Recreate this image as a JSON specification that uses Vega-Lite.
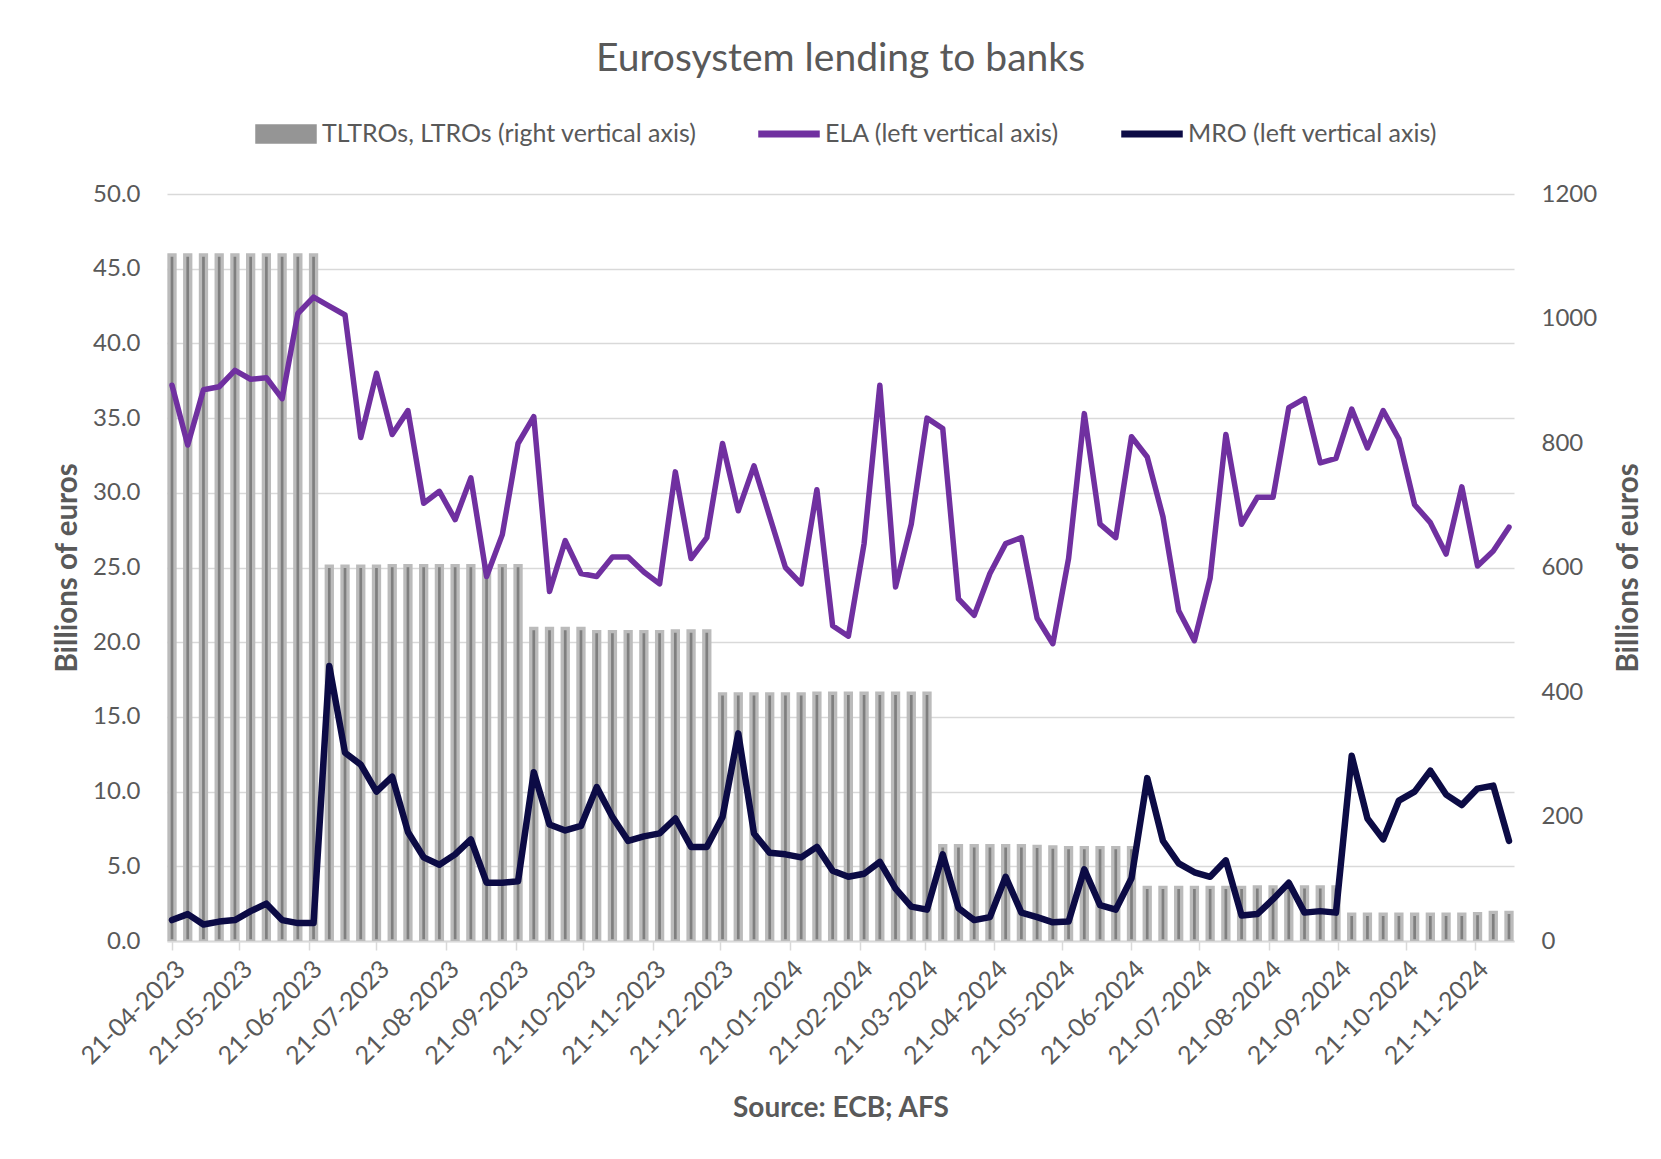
{
  "$schema": "https://vega.github.io/schema/vega-lite/v6.json",
  "autosize": {"type": "none"},
  "padding": {"left": 167, "top": 194, "right": 147, "bottom": 218},
  "width": 1347,
  "height": 747,
  "background": "white",
  "config": {
    "view": {"stroke": null},
    "font": "Lato",
    "axis": {"labelFont": "Lato", "titleFont": "Lato", "labelColor": "#595959", "titleColor": "#595959"},
    "legend": {"labelFont": "Lato"},
    "title": {"font": "Lato"}
  },
  "title": {"text": "Eurosystem lending to banks", "fontSize": 39, "fontWeight": "normal", "color": "#595959", "anchor": "middle", "offset": 24},
  "data": {"values": [
    {"date": "2023-04-21", "ela": 37.2, "mro": 1.4, "tltro": 1102},
    {"date": "2023-04-28", "ela": 33.2, "mro": 1.8, "tltro": 1102},
    {"date": "2023-05-05", "ela": 36.9, "mro": 1.1, "tltro": 1102},
    {"date": "2023-05-12", "ela": 37.1, "mro": 1.3, "tltro": 1102},
    {"date": "2023-05-19", "ela": 38.2, "mro": 1.4, "tltro": 1102},
    {"date": "2023-05-26", "ela": 37.6, "mro": 2.0, "tltro": 1102},
    {"date": "2023-06-02", "ela": 37.7, "mro": 2.5, "tltro": 1102},
    {"date": "2023-06-09", "ela": 36.3, "mro": 1.4, "tltro": 1102},
    {"date": "2023-06-16", "ela": 42.0, "mro": 1.2, "tltro": 1102},
    {"date": "2023-06-23", "ela": 43.1, "mro": 1.2, "tltro": 1102},
    {"date": "2023-06-30", "ela": 42.5, "mro": 18.4, "tltro": 602},
    {"date": "2023-07-07", "ela": 41.9, "mro": 12.6, "tltro": 602},
    {"date": "2023-07-14", "ela": 33.7, "mro": 11.8, "tltro": 602},
    {"date": "2023-07-21", "ela": 38.0, "mro": 10.0, "tltro": 602},
    {"date": "2023-07-28", "ela": 33.9, "mro": 11.0, "tltro": 603},
    {"date": "2023-08-04", "ela": 35.5, "mro": 7.3, "tltro": 603},
    {"date": "2023-08-11", "ela": 29.3, "mro": 5.6, "tltro": 603},
    {"date": "2023-08-18", "ela": 30.1, "mro": 5.1, "tltro": 603},
    {"date": "2023-08-25", "ela": 28.2, "mro": 5.8, "tltro": 603},
    {"date": "2023-09-01", "ela": 31.0, "mro": 6.8, "tltro": 603},
    {"date": "2023-09-08", "ela": 24.4, "mro": 3.9, "tltro": 603},
    {"date": "2023-09-15", "ela": 27.2, "mro": 3.9, "tltro": 603},
    {"date": "2023-09-22", "ela": 33.3, "mro": 4.0, "tltro": 603},
    {"date": "2023-09-29", "ela": 35.1, "mro": 11.3, "tltro": 502},
    {"date": "2023-10-06", "ela": 23.4, "mro": 7.8, "tltro": 502},
    {"date": "2023-10-13", "ela": 26.8, "mro": 7.4, "tltro": 502},
    {"date": "2023-10-20", "ela": 24.6, "mro": 7.7, "tltro": 502},
    {"date": "2023-10-27", "ela": 24.4, "mro": 10.3, "tltro": 497},
    {"date": "2023-11-03", "ela": 25.7, "mro": 8.3, "tltro": 497},
    {"date": "2023-11-10", "ela": 25.7, "mro": 6.7, "tltro": 497},
    {"date": "2023-11-17", "ela": 24.7, "mro": 7.0, "tltro": 497},
    {"date": "2023-11-24", "ela": 23.9, "mro": 7.2, "tltro": 497},
    {"date": "2023-12-01", "ela": 31.4, "mro": 8.2, "tltro": 498},
    {"date": "2023-12-08", "ela": 25.6, "mro": 6.3, "tltro": 498},
    {"date": "2023-12-15", "ela": 27.0, "mro": 6.3, "tltro": 498},
    {"date": "2023-12-22", "ela": 33.3, "mro": 8.3, "tltro": 397},
    {"date": "2023-12-29", "ela": 28.8, "mro": 13.9, "tltro": 397},
    {"date": "2024-01-05", "ela": 31.8, "mro": 7.2, "tltro": 397},
    {"date": "2024-01-12", "ela": 28.4, "mro": 5.9, "tltro": 397},
    {"date": "2024-01-19", "ela": 25.0, "mro": 5.8, "tltro": 397},
    {"date": "2024-01-26", "ela": 23.9, "mro": 5.6, "tltro": 397},
    {"date": "2024-02-02", "ela": 30.2, "mro": 6.3, "tltro": 398},
    {"date": "2024-02-09", "ela": 21.1, "mro": 4.7, "tltro": 398},
    {"date": "2024-02-16", "ela": 20.4, "mro": 4.3, "tltro": 398},
    {"date": "2024-02-23", "ela": 26.6, "mro": 4.5, "tltro": 398},
    {"date": "2024-03-01", "ela": 37.2, "mro": 5.3, "tltro": 398},
    {"date": "2024-03-08", "ela": 23.7, "mro": 3.5, "tltro": 398},
    {"date": "2024-03-15", "ela": 27.9, "mro": 2.3, "tltro": 398},
    {"date": "2024-03-22", "ela": 35.0, "mro": 2.1, "tltro": 398},
    {"date": "2024-03-29", "ela": 34.3, "mro": 5.8, "tltro": 153},
    {"date": "2024-04-05", "ela": 22.9, "mro": 2.2, "tltro": 153},
    {"date": "2024-04-12", "ela": 21.8, "mro": 1.4, "tltro": 153},
    {"date": "2024-04-19", "ela": 24.6, "mro": 1.6, "tltro": 153},
    {"date": "2024-04-26", "ela": 26.6, "mro": 4.3, "tltro": 153},
    {"date": "2024-05-03", "ela": 27.0, "mro": 1.9, "tltro": 153},
    {"date": "2024-05-10", "ela": 21.6, "mro": 1.6, "tltro": 152},
    {"date": "2024-05-17", "ela": 19.9, "mro": 1.25, "tltro": 151},
    {"date": "2024-05-24", "ela": 25.6, "mro": 1.3, "tltro": 150},
    {"date": "2024-05-31", "ela": 35.3, "mro": 4.8, "tltro": 150},
    {"date": "2024-06-07", "ela": 27.9, "mro": 2.4, "tltro": 150},
    {"date": "2024-06-14", "ela": 27.0, "mro": 2.1, "tltro": 150},
    {"date": "2024-06-21", "ela": 33.75, "mro": 4.2, "tltro": 150},
    {"date": "2024-06-28", "ela": 32.4, "mro": 10.9, "tltro": 86},
    {"date": "2024-07-05", "ela": 28.4, "mro": 6.7, "tltro": 86},
    {"date": "2024-07-12", "ela": 22.1, "mro": 5.2, "tltro": 86},
    {"date": "2024-07-19", "ela": 20.1, "mro": 4.6, "tltro": 86},
    {"date": "2024-07-26", "ela": 24.3, "mro": 4.3, "tltro": 86},
    {"date": "2024-08-02", "ela": 33.9, "mro": 5.4, "tltro": 86},
    {"date": "2024-08-09", "ela": 27.9, "mro": 1.7, "tltro": 86},
    {"date": "2024-08-16", "ela": 29.7, "mro": 1.8, "tltro": 87},
    {"date": "2024-08-23", "ela": 29.7, "mro": 2.8, "tltro": 87},
    {"date": "2024-08-30", "ela": 35.7, "mro": 3.9, "tltro": 87},
    {"date": "2024-09-06", "ela": 36.3, "mro": 1.9, "tltro": 87},
    {"date": "2024-09-13", "ela": 32.0, "mro": 2.0, "tltro": 87},
    {"date": "2024-09-20", "ela": 32.3, "mro": 1.9, "tltro": 87},
    {"date": "2024-09-27", "ela": 35.6, "mro": 12.4, "tltro": 43},
    {"date": "2024-10-04", "ela": 33.0, "mro": 8.2, "tltro": 43},
    {"date": "2024-10-11", "ela": 35.5, "mro": 6.8, "tltro": 43},
    {"date": "2024-10-18", "ela": 33.6, "mro": 9.4, "tltro": 43},
    {"date": "2024-10-25", "ela": 29.2, "mro": 10.0, "tltro": 43},
    {"date": "2024-11-01", "ela": 28.0, "mro": 11.4, "tltro": 43},
    {"date": "2024-11-08", "ela": 25.9, "mro": 9.8, "tltro": 43},
    {"date": "2024-11-15", "ela": 30.4, "mro": 9.1, "tltro": 43},
    {"date": "2024-11-22", "ela": 25.1, "mro": 10.2, "tltro": 44},
    {"date": "2024-11-29", "ela": 26.1, "mro": 10.4, "tltro": 46},
    {"date": "2024-12-06", "ela": 27.7, "mro": 6.7, "tltro": 46}
  ]},
  "encoding": {
    "x": {
      "field": "date",
      "type": "temporal",
      "scale": {"type": "utc", "nice": false, "domain": [{"year": 2023, "month": 4, "date": 21, "utc": true}, {"year": 2024, "month": 12, "date": 6, "utc": true}]},
      "axis": {
        "values": [
          {"year": 2023, "month": 4, "date": 21, "utc": true},
          {"year": 2023, "month": 5, "date": 21, "utc": true},
          {"year": 2023, "month": 6, "date": 21, "utc": true},
          {"year": 2023, "month": 7, "date": 21, "utc": true},
          {"year": 2023, "month": 8, "date": 21, "utc": true},
          {"year": 2023, "month": 9, "date": 21, "utc": true},
          {"year": 2023, "month": 10, "date": 21, "utc": true},
          {"year": 2023, "month": 11, "date": 21, "utc": true},
          {"year": 2023, "month": 12, "date": 21, "utc": true},
          {"year": 2024, "month": 1, "date": 21, "utc": true},
          {"year": 2024, "month": 2, "date": 21, "utc": true},
          {"year": 2024, "month": 3, "date": 21, "utc": true},
          {"year": 2024, "month": 4, "date": 21, "utc": true},
          {"year": 2024, "month": 5, "date": 21, "utc": true},
          {"year": 2024, "month": 6, "date": 21, "utc": true},
          {"year": 2024, "month": 7, "date": 21, "utc": true},
          {"year": 2024, "month": 8, "date": 21, "utc": true},
          {"year": 2024, "month": 9, "date": 21, "utc": true},
          {"year": 2024, "month": 10, "date": 21, "utc": true},
          {"year": 2024, "month": 11, "date": 21, "utc": true}
        ],
        "labelExpr": "utcFormat(datum.value, '%d-%m-%Y')",
        "labelAngle": -45,
        "labelFontSize": 25,
        "labelOverlap": false,
        "labelPadding": 6,
        "tickColor": "#d9d9d9",
        "tickSize": 9,
        "tickWidth": 1.5,
        "domainColor": "#d9d9d9",
        "domainWidth": 2,
        "grid": false,
        "title": "Source: ECB; AFS",
        "titleFontSize": 28,
        "titleFontWeight": "bold",
        "titlePadding": 26
      }
    }
  },
  "layer": [
    {
      "mark": {"type": "bar", "size": 6, "fill": "#7f7f7f", "stroke": "#bbbbbb", "strokeWidth": 3.3, "clip": true},
      "encoding": {
        "y": {
          "field": "tltro",
          "type": "quantitative",
          "scale": {"domain": [0, 1200], "nice": false},
          "axis": {
            "orient": "right",
            "values": [0, 200, 400, 600, 800, 1000, 1200],
            "format": "d",
            "grid": false,
            "ticks": false,
            "domain": false,
            "labelFontSize": 24,
            "labelPadding": 27,
            "title": "Billions of euros",
            "titleAngle": 270,
            "titleFontSize": 29.5,
            "titleFontWeight": "bold",
            "titlePadding": 47
          }
        }
      }
    },
    {
      "transform": [{"fold": ["ela", "mro"], "as": ["series", "value"]}],
      "mark": {"type": "line", "strokeJoin": "round", "strokeCap": "round", "clip": true},
      "encoding": {
        "y": {
          "field": "value",
          "type": "quantitative",
          "scale": {"domain": [0, 50], "nice": false},
          "axis": {
            "orient": "left",
            "values": [0, 5, 10, 15, 20, 25, 30, 35, 40, 45, 50],
            "format": ".1f",
            "grid": true,
            "gridColor": "#d9d9d9",
            "gridWidth": 1.5,
            "ticks": false,
            "domain": false,
            "labelFontSize": 24,
            "labelPadding": 27,
            "title": "Billions of euros",
            "titleFontSize": 29.5,
            "titleFontWeight": "bold",
            "titlePadding": 10
          }
        },
        "color": {
          "field": "series",
          "type": "nominal",
          "scale": {"domain": ["tltro", "ela", "mro"], "range": ["#959595", "#7030a0", "#0c0b45"]},
          "legend": {
            "orient": "none",
            "legendX": 88,
            "legendY": -91,
            "direction": "horizontal",
            "title": null,
            "padding": 0,
            "labelExpr": "datum.value == 'ela' ? 'ELA (left vertical axis)' : datum.value == 'mro' ? 'MRO (left vertical axis)' : 'TLTROs, LTROs (right vertical axis)'",
            "labelFontSize": 25,
            "labelLimit": 600,
            "labelColor": "#595959",
            "labelOffset": 5,
            "columnPadding": 59,
            "symbolSize": 3600,
            "symbolType": "M-1,-0.09H1V0.09H-1Z",
            "encode": {
              "symbols": {
                "update": {
                  "shape": {"signal": "datum.value === 'tltro' ? 'M-1,-0.3H1V0.3H-1Z' : 'M-1,-0.09H1V0.09H-1Z'"},
                  "fill": {"signal": "datum.value === 'tltro' ? '#959595' : datum.value === 'ela' ? '#7030a0' : '#0c0b45'"},
                  "opacity": {"value": 1}
                }
              }
            }
          }
        },
        "strokeWidth": {
          "field": "series",
          "type": "nominal",
          "scale": {"domain": ["ela", "mro"], "range": [5.5, 6.5]},
          "legend": null
        }
      }
    }
  ],
  "resolve": {"scale": {"y": "independent"}}
}
